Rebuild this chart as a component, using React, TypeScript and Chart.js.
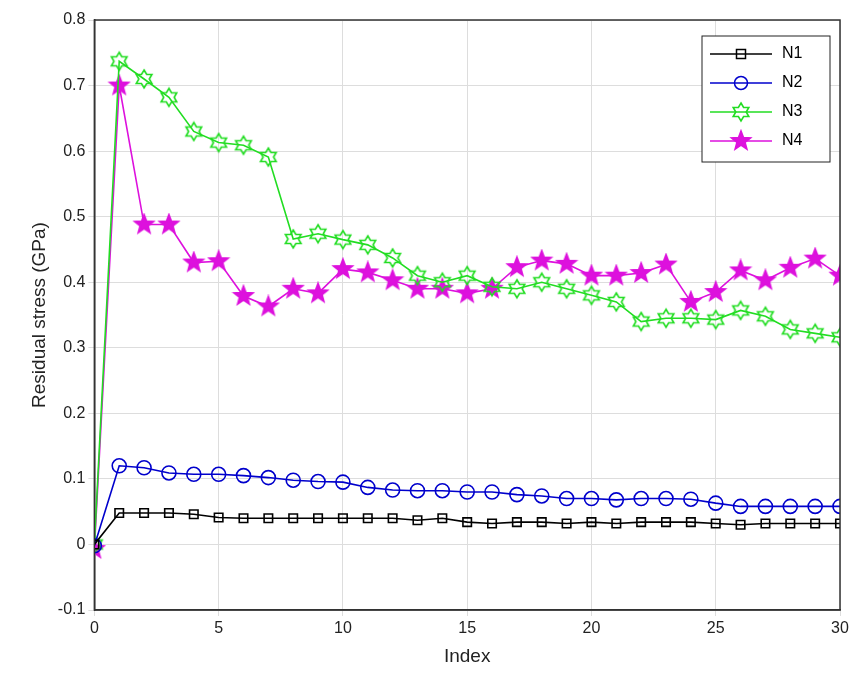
import React, { useEffect, useRef } from "react";
import { Chart, registerables } from "chart.js";
Chart.register(...registerables);

const indices = Array.from({ length: 31 }, (_, i) => i);
const seriesNames = ["N1", "N2", "N3", "N4"];
const n1 = [0, .048, .048, .048, .046, .041, .040, .040, .040, .040, .040, .040, .040, .037, .040, .034, .032, .034, .034, .032, .034, .032, .034, .034, .034, .032, .030, .032, .032, .032, .032];
const n2 = [-0.002, .12, .117, .109, .107, .107, .105, .102, .098, .096, .095, .087, .083, .082, .082, .080, .080, .076, .074, .070, .070, .068, .070, .070, .069, .063, .058, .058, .058, .058, .058];
const n3 = [0, .737, .71, .682, .63, .613, .609, .591, .466, .474, .465, .457, .437, .41, .40, .41, .393, .39, .40, .39, .38, .37, .34, .345, .345, .343, .357, .348, .328, .322, .316];
const n4 = [-0.007, .70, .488, .488, .43, .432, .379, .363, .39, .383, .42, .415, .403, .39, .39, .383, .39, .423, .433, .428, .41, .41, .414, .427, .37, .385, .418, .403, .422, .436, .41];
const colors = ["#000000", "#0000cc", "#22dd22", "#dd11dd"];

function starCanvas(points: number, color: string, filled: boolean, r: number) {
  const c = document.createElement("canvas");
  const s = r * 2 + 4;
  c.width = s; c.height = s;
  const ctx = c.getContext("2d")!;
  ctx.beginPath();
  const inner = points === 6 ? r * 0.58 : r * 0.42;
  for (let i = 0; i < points * 2; i++) {
    const a = -Math.PI / 2 + (i * Math.PI) / points;
    const rr = i % 2 === 0 ? r : inner;
    const x = s / 2 + rr * Math.cos(a), y = s / 2 + rr * Math.sin(a);
    if (i === 0) ctx.moveTo(x, y); else ctx.lineTo(x, y);
  }
  ctx.closePath();
  if (filled) { ctx.fillStyle = color; ctx.fill(); }
  ctx.strokeStyle = color; ctx.lineWidth = 1.6; ctx.stroke();
  return c;
}

export default function App() {
  const ref = useRef<HTMLCanvasElement>(null);
  useEffect(() => {
    const hex = starCanvas(6, colors[2], false, 9);
    const pent = starCanvas(5, colors[3], true, 10);
    const styles: any[] = ["rect", "circle", hex, pent];
    const radii = [6, 7, 9, 10];
    const data = [n1, n2, n3, n4];
    const boxPlugin = {
      id: "box",
      afterDraw(chart: any) {
        const { ctx, chartArea: a } = chart;
        ctx.save();
        ctx.strokeStyle = "#333"; ctx.lineWidth = 1.5;
        ctx.strokeRect(a.left, a.top, a.right - a.left, a.bottom - a.top);
        const lx = 702, ly = 36, lw = 128, lh = 126;
        ctx.fillStyle = "#fff"; ctx.fillRect(lx, ly, lw, lh);
        ctx.strokeStyle = "#222"; ctx.lineWidth = 1; ctx.strokeRect(lx, ly, lw, lh);
        ctx.font = "16px 'Liberation Sans', Arial";
        ctx.textBaseline = "middle";
        for (let i = 0; i < 4; i++) {
          const y = ly + 18 + i * 29;
          ctx.strokeStyle = colors[i]; ctx.lineWidth = 1.5;
          ctx.beginPath(); ctx.moveTo(lx + 8, y); ctx.lineTo(lx + 70, y); ctx.stroke();
          const cx = lx + 39;
          if (i === 0) { ctx.strokeRect(cx - 4.5, y - 4.5, 9, 9); }
          else if (i === 1) { ctx.beginPath(); ctx.arc(cx, y, 6.5, 0, Math.PI * 2); ctx.stroke(); }
          else { const im = styles[i]; ctx.drawImage(im, cx - im.width / 2, y - im.height / 2); }
          ctx.fillStyle = "#000"; ctx.fillText(seriesNames[i], lx + 80, y);
        }
        ctx.restore();
      },
    };
    const chart = new Chart(ref.current!, {
      type: "line",
      data: {
        labels: indices,
        datasets: seriesNames.map((n, i) => ({
          label: n,
          data: data[i].map((v, k) => ({ x: indices[k], y: v })),
          borderColor: colors[i],
          backgroundColor: i === 3 ? colors[i] : "rgba(0,0,0,0)",
          borderWidth: 1.6,
          pointStyle: styles[i],
          pointRadius: radii[i],
          pointBorderWidth: 1.6,
          pointBorderColor: colors[i],
          pointBackgroundColor: i === 3 ? colors[i] : "rgba(0,0,0,0)",
          tension: 0,
        })),
      },
      options: {
        animation: false,
        responsive: false,
        layout: { padding: { top: 20, right: 24, left: 24, bottom: 18 } },
        plugins: { legend: { display: false }, tooltip: { enabled: false } },
        scales: {
          x: {
            type: "linear", min: 0, max: 30,
            ticks: { stepSize: 5, color: "#222", font: { size: 16, family: "'Liberation Sans', Arial" } },
            grid: { color: "#dddddd", tickLength: 6 },
            border: { color: "#333", width: 1.5 },
            title: { display: true, text: "Index", color: "#222", font: { size: 19, family: "'Liberation Sans', Arial" } },
          },
          y: {
            min: -0.1, max: 0.8,
            ticks: { stepSize: 0.1, color: "#222", font: { size: 16, family: "'Liberation Sans', Arial" },
              callback: (v: any) => String(Math.round(Number(v) * 10) / 10) },
            grid: { color: "#dddddd", tickLength: 6 },
            border: { color: "#333", width: 1.5 },
            title: { display: true, text: "Residual stress (GPa)", color: "#222", font: { size: 19, family: "'Liberation Sans', Arial" } },
          },
        },
      },
      plugins: [boxPlugin],
    });
    return () => chart.destroy();
  }, []);
  return (
    <div style={{ position: "absolute", left: 0, top: 0, width: 864, height: 690, background: "#fff" }}>
      <canvas ref={ref} width={864} height={690} />
    </div>
  );
}
